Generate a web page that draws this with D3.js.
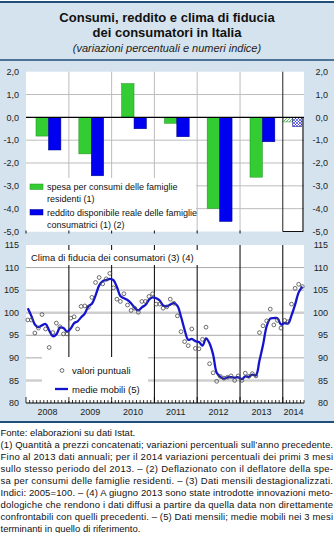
<!DOCTYPE html>
<html><head><meta charset="utf-8">
<script src="https://cdn.jsdelivr.net/npm/d3@7"></script>
<style>body{margin:0;background:#fff} svg{display:block;font-family:"Liberation Sans",Arial,sans-serif}</style>
</head><body><svg id="c" width="334" height="533"></svg>
<script>
// ---------- DATA ----------
const years = ["2008","2009","2010","2011","2012","2013","2014"];
const spesa   = [-0.82, -1.60, 1.48, -0.26, -3.99, -2.62, -0.20];
const reddito = [-1.43, -2.56, -0.50, -0.85, -4.56, -1.07, -0.40];
const topTicks = [2,1,0,-1,-2,-3,-4,-5];
const bottomTicks = [115,110,105,100,95,90,85,80];
// monthly, Jan 2008 - Jun 2014
const fiducia = [
 98.4, 98.4, 95.5, 96.6, 99.6, 96.4, 92.3, 95.6, 97.7, 96.9, 95.3, 95.3,
 98.8, 99.1, 96.4,101.4,101.5,101.2,103.4,106.7,107.8,106.4,107.5,108.7,
105.5,103.0,102.5,104.2,101.7,100.5,101.0,100.1,102.5,102.5,103.6,104.2,
101.9,101.9,101.0,101.3,103.0,102.1, 99.3, 95.8, 93.6, 92.7, 96.4, 92.1,
 92.0, 94.1, 96.8, 88.7, 86.7, 84.8, 85.9, 85.5, 85.7, 86.0, 85.0, 86.0,
 85.0, 86.6, 85.9, 86.5, 86.0, 95.6, 97.1, 98.2,100.8, 97.3, 98.3, 96.6,
 98.3, 98.0,101.9,105.4,106.3,105.8];
const medie = [
101.0, 99.3, 97.4, 96.8, 97.2, 97.5, 96.1, 94.8, 95.2, 96.7, 96.6, 95.8,
 96.5, 97.7, 98.1, 99.0, 99.8,101.4,102.0,103.8,106.0,107.0,107.2,107.5,
107.2,105.7,103.7,103.2,102.8,102.1,101.1,100.5,101.2,101.7,102.9,103.4,
103.2,102.7,101.6,101.4,101.8,102.1,101.5, 99.1, 96.2, 94.0, 94.2, 93.7,
 93.5, 92.7, 94.3, 93.2, 90.7, 86.7, 85.8, 85.4, 85.7, 85.7, 85.6, 85.7,
 85.3, 85.9, 85.8, 86.3, 86.1, 89.4, 92.9, 97.0, 98.7, 98.8, 98.8, 97.4,
 97.7, 97.6, 99.4,101.8,104.5,105.8];
const footnotes = [
 "Fonte: elaborazioni su dati Istat.",
 "(1) Quantità a prezzi concatenati; variazioni percentuali sull’anno precedente.",
 "Fino al 2013 dati annuali; per il 2014 variazioni percentuali dei primi 3 mesi",
 "sullo stesso periodo del 2013. – (2) Deflazionato con il deflatore della spe-",
 "sa per consumi delle famiglie residenti. – (3) Dati mensili destagionalizzati.",
 "Indici: 2005=100. – (4) A giugno 2013 sono state  introdotte innovazioni meto-",
 "dologiche che rendono i dati diffusi a partire da quella data non direttamente",
 "confrontabili con quelli precedenti. – (5) Dati mensili; medie mobili nei 3 mesi",
 "terminanti in quello di riferimento."
];

// ---------- SETUP ----------
const svg = d3.select("#c");
const loc = d3.formatLocale({decimal:",", thousands:".", grouping:[3], currency:["","€"], minus:"-"});
const f1 = loc.format(".1f");
const BG = "#d5e3ee", DARK = "#1f4f7a", GREEN = "#33cc33", BLUE = "#0000f0";

const defs = svg.append("defs");
const pg = defs.append("pattern").attr("id","hatchG").attr("patternUnits","userSpaceOnUse").attr("width",3).attr("height",3);
pg.append("rect").attr("width",3).attr("height",3).attr("fill","#fff");
pg.append("path").attr("d","M0,3 L3,0 M-1,1 L1,-1 M2,4 L4,2").attr("stroke","#44bb44").attr("stroke-width",0.9);
const pb = defs.append("pattern").attr("id","hatchB").attr("patternUnits","userSpaceOnUse").attr("width",3).attr("height",3);
pb.append("rect").attr("width",3).attr("height",3).attr("fill","#fff");
pb.append("path").attr("d","M0,3 L3,0 M-1,1 L1,-1 M2,4 L4,2 M0,0 L3,3").attr("stroke","#1010e0").attr("stroke-width",0.6);

svg.append("rect").attr("x",0).attr("y",2).attr("width",334).attr("height",420).attr("fill",BG);
svg.append("line").attr("x1",0).attr("x2",334).attr("y1",2).attr("y2",2).attr("stroke",DARK).attr("stroke-width",2);
svg.append("line").attr("x1",0).attr("x2",334).attr("y1",60).attr("y2",60).attr("stroke",DARK).attr("stroke-width",1.5);
svg.append("line").attr("x1",0).attr("x2",334).attr("y1",422).attr("y2",422).attr("stroke",DARK).attr("stroke-width",2);

const tg = svg.append("g").attr("text-anchor","middle").attr("fill","#111");
tg.append("text").attr("x",167).attr("y",22).attr("font-size",13).attr("font-weight","bold").text("Consumi, reddito e clima di fiducia");
tg.append("text").attr("x",167).attr("y",37).attr("font-size",13).attr("font-weight","bold").text("dei consumatori in Italia");
tg.append("text").attr("x",167).attr("y",52).attr("font-size",11).attr("font-style","italic").attr("fill","#222").text("(variazioni percentuali e numeri indice)");

const utc = (y,m)=>new Date(Date.UTC(y,m,1));
const x = d3.scaleUtc().domain([utc(2008,0), utc(2014,6)]).range([26,304]);
const X0 = x.range()[0], X1 = x.range()[1];
const yearStart = years.map(y=>x(utc(+y,0)));
const yearEnd = years.map((y,i)=> i<years.length-1 ? x(utc(+y+1,0)) : X1);
const bounds = yearStart.slice(1);

// ---------- TOP CHART ----------
const yT = d3.scaleLinear().domain([-5,2]).range([231.5,71.7]);
const topG = svg.append("g");
topG.append("rect").attr("x",X0).attr("y",yT(2)).attr("width",X1-X0).attr("height",yT(-5)-yT(2)).attr("fill","#fff");
topG.selectAll(".hg").data([1,-1,-2,-3,-4]).join("line")
  .attr("x1",X0).attr("x2",X1).attr("y1",d=>yT(d)).attr("y2",d=>yT(d)).attr("stroke","#bcbcbc").attr("stroke-width",1);
topG.selectAll(".vg").data(bounds.slice(0,5)).join("line")
  .attr("x1",d=>d).attr("x2",d=>d).attr("y1",yT(2)).attr("y2",yT(-5)).attr("stroke","#bcbcbc").attr("stroke-width",1);
// legend box
topG.append("rect").attr("x",X0).attr("y",178).attr("width",170).attr("height",yT(-5)-178).attr("fill","#fff");
// 2014 box
const b14 = bounds[5];
topG.append("line").attr("x1",b14).attr("x2",b14).attr("y1",yT(2)).attr("y2",yT(-5)).attr("stroke","#222").attr("stroke-width",1);
topG.append("path").attr("d",`M${b14},${yT(-5)}H${X1-1}V${yT(0)}`).attr("fill","none").attr("stroke","#111").attr("stroke-width",1.2);
// ticks at bottom
topG.selectAll(".bt").data([X0].concat(bounds.slice(0,5))).join("line")
  .attr("x1",d=>d).attr("x2",d=>d).attr("y1",yT(-5)-1).attr("y2",yT(-5)+2).attr("stroke","#111");

// bars
years.forEach((yr,i)=>{
  const w = yearEnd[i]-yearStart[i];
  const last = i===years.length-1;
  const band = d3.scaleBand().domain(["g","b"])
    .range(last ? [yearStart[i]+0.5, yearStart[i]+w*0.9] : [yearStart[i]+w*0.233, yearStart[i]+w*0.814]);
  [["g",spesa[i]],["b",reddito[i]]].forEach(([k,v])=>{
    topG.append("rect").attr("x",band(k)).attr("width",band.bandwidth())
      .attr("y",yT(Math.max(0,v))).attr("height",Math.abs(yT(v)-yT(0)))
      .attr("fill", last ? (k==="g"?"url(#hatchG)":"url(#hatchB)") : (k==="g"?GREEN:BLUE))
      .attr("stroke", k==="g" ? "#1f8f1f" : "#00008a").attr("stroke-width",0.5);
  });
});
topG.append("line").attr("x1",X0).attr("x2",X1).attr("y1",yT(0)).attr("y2",yT(0)).attr("stroke","#000").attr("stroke-width",1.3);

// axis labels
const axT = svg.append("g").attr("font-size",9).attr("fill","#222");
axT.selectAll(".l").data(topTicks).join("text").attr("x",19).attr("y",d=>yT(d)).attr("dy","0.35em").attr("text-anchor","end").text(d=>f1(d));
axT.selectAll(".r").data(topTicks).join("text").attr("x",328).attr("y",d=>yT(d)).attr("dy","0.35em").attr("text-anchor","end").text(d=>f1(d));

// legend top
const lg = svg.append("g").attr("font-size",9).attr("fill","#111");
lg.append("rect").attr("x",30).attr("y",184).attr("width",13).attr("height",5.5).attr("fill",GREEN).attr("stroke","#1f8f1f").attr("stroke-width",0.5);
lg.append("text").attr("x",47).attr("y",190).text("spesa per consumi delle famiglie");
lg.append("text").attr("x",47).attr("y",201.5).text("residenti (1)");
lg.append("rect").attr("x",30).attr("y",209.5).attr("width",13).attr("height",5.5).attr("fill",BLUE).attr("stroke","#00008a").attr("stroke-width",0.5);
lg.append("text").attr("x",47).attr("y",216).text("reddito disponibile reale delle famiglie");
lg.append("text").attr("x",47).attr("y",227.5).text("consumatrici (1) (2)");

// ---------- BOTTOM CHART ----------
const yB = d3.scaleLinear().domain([80,115]).range([403,245]);
const bot = svg.append("g");
bot.append("rect").attr("x",X0).attr("y",yB(115)).attr("width",X1-X0).attr("height",yB(80)-yB(115)).attr("fill","#fff");
bot.selectAll(".g1").data([110,105,95,90]).join("line")
  .attr("x1",X0).attr("x2",X1).attr("y1",d=>yB(d)).attr("y2",d=>yB(d)).attr("stroke","#a9a9a9").attr("stroke-width",1);
bot.selectAll(".g2").data([100,85]).join("line")
  .attr("x1",X0).attr("x2",X1).attr("y1",d=>yB(d)).attr("y2",d=>yB(d)).attr("stroke","#cfcfcf").attr("stroke-width",2.5);
bot.selectAll(".vy").data(bounds).join("line")
  .attr("x1",d=>d).attr("x2",d=>d).attr("y1",yB(115)).attr("y2",yB(80)).attr("stroke","#000").attr("stroke-width",1);
// title box & legend box
bot.append("rect").attr("x",28).attr("y",250).attr("width",172).attr("height",15).attr("fill","#fff");
bot.append("text").attr("x",31).attr("y",261).attr("font-size",9.5).attr("fill","#111").text("Clima di fiducia dei consumatori (3) (4)");
bot.append("rect").attr("x",42).attr("y",357).attr("width",106).attr("height",44).attr("fill","#fff");

// bottom axis with monthly ticks
const months = d3.utcMonth.range(utc(2008,0), utc(2014,7));
bot.append("line").attr("x1",X0).attr("x2",X1).attr("y1",yB(80)).attr("y2",yB(80)).attr("stroke","#000").attr("stroke-width",1.2);
bot.selectAll(".mt").data(months).join("line")
  .attr("x1",d=>x(d)).attr("x2",d=>x(d)).attr("y1",yB(80)).attr("y2",d=>yB(80)-(d.getUTCMonth()===0?6:3))
  .attr("stroke","#000").attr("stroke-width",0.8);

// data
const mid = i => { const d0 = utc(2008,i), d1 = utc(2008,i+1); return (x(d0)+x(d1))/2; };
bot.append("path").datum(medie)
  .attr("d", d3.line().x((d,i)=>mid(i)).y(d=>yB(d)).curve(d3.curveCatmullRom.alpha(0.5)))
  .attr("fill","none").attr("stroke","#1414cc").attr("stroke-width",2.3);
bot.selectAll(".pt").data(fiducia).join("circle")
  .attr("cx",(d,i)=>mid(i)).attr("cy",d=>yB(d)).attr("r",1.9)
  .attr("fill","none").attr("stroke","#4a4a4a").attr("stroke-width",0.8);

// legend bottom
bot.append("circle").attr("cx",62).attr("cy",370.5).attr("r",1.9).attr("fill","#fff").attr("stroke","#4a4a4a").attr("stroke-width",0.8);
bot.append("text").attr("x",72).attr("y",374).attr("font-size",9.5).attr("fill","#111").text("valori puntuali");
bot.append("line").attr("x1",55).attr("x2",68).attr("y1",389).attr("y2",389).attr("stroke","#1414cc").attr("stroke-width",2.3);
bot.append("text").attr("x",72).attr("y",392.5).attr("font-size",9.5).attr("fill","#111").text("medie mobili (5)");

// axis labels
const axB = svg.append("g").attr("font-size",9).attr("fill","#222");
axB.selectAll(".l").data(bottomTicks).join("text").attr("x",19).attr("y",d=>yB(d)).attr("dy","0.35em").attr("text-anchor","end").text(d=>d);
axB.selectAll(".r").data(bottomTicks).join("text").attr("x",328).attr("y",d=>yB(d)).attr("dy","0.35em").attr("text-anchor","end").text(d=>d);
axB.selectAll(".yr").data(years).join("text")
  .attr("x",(d,i)=>(yearStart[i]+yearEnd[i])/2).attr("y",414.5).attr("text-anchor","middle").text(d=>d);

// ---------- FOOTNOTES ----------
const fn = svg.append("g").attr("font-size",9.5).attr("fill","#111");
footnotes.forEach((t,i)=>{
  const el = fn.append("text").attr("x",0.5).attr("y",435.5+i*12).text(t);
  if(i>0 && i<footnotes.length-1) el.attr("textLength",332.5).attr("lengthAdjust","spacing");
});
</script></body></html>
